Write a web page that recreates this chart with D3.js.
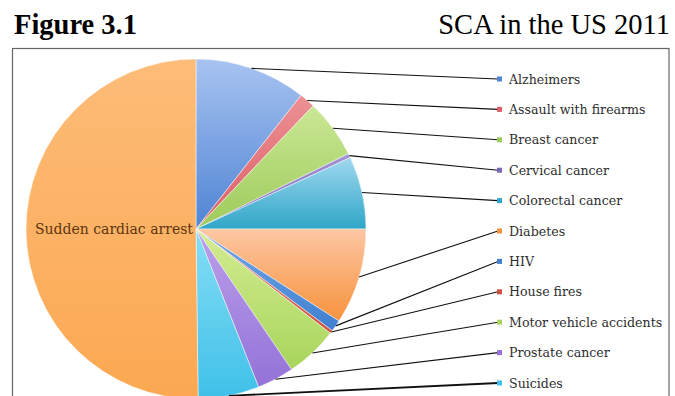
<!DOCTYPE html>
<html>
<head>
<meta charset="utf-8">
<script src="https://cdn.jsdelivr.net/npm/d3@7"></script>
<style>
  html, body { margin: 0; padding: 0; background: #fff; }
  svg { display: block; }
</style>
</head>
<body>
<svg id="chart" width="675" height="396"></svg>
<script>
// Causes of death in the US, 2011 (share of total, %)
const categories = [
  "Alzheimers", "Assault with firearms", "Breast cancer", "Cervical cancer",
  "Colorectal cancer", "Diabetes", "HIV", "House fires",
  "Motor vehicle accidents", "Prostate cancer", "Suicides", "Sudden cardiac arrest"
];
const values = [10.6, 1.5, 5.6, 0.4, 6.9, 9.1, 1.1, 0.3, 5.0, 3.5, 5.8, 50.2];
const lightColors = ["#a8c3f1", "#ec9094", "#cbe795", "#a395d6", "#a0d8ef", "#fdc7a4",
                     "#74a8e8", "#e8847a", "#d4ec92", "#bba0ea", "#86def6", "#fdbc78"];
const baseColors  = ["#4f84d4", "#dc5f66", "#9dcb5a", "#7b67b8", "#2fa6c8", "#f7923c",
                     "#3f7fd0", "#d0503f", "#a8d55c", "#9472d8", "#3fc0e8", "#fca852"];
const insideLabel = "Sudden cardiac arrest";

const svg = d3.select("#chart");

// Header
svg.append("text")
  .attr("x", 14).attr("y", 34)
  .attr("font-family", "'Liberation Serif', 'Times New Roman', serif")
  .attr("font-weight", "bold").attr("font-size", 28.5)
  .attr("fill", "#000").text("Figure 3.1");
svg.append("text")
  .attr("x", 670).attr("y", 34)
  .attr("text-anchor", "end")
  .attr("font-family", "'Liberation Serif', 'Times New Roman', serif")
  .attr("font-size", 28.5)
  .attr("fill", "#000").text("SCA in the US 2011");

// Chart frame
svg.append("rect")
  .attr("x", 12.5).attr("y", 48.5)
  .attr("width", 656.5).attr("height", 360)
  .attr("fill", "#fff").attr("stroke", "#666").attr("stroke-width", 1.2);

const cx = 196, cy = 229, r = 170;
const data = categories.map((c, i) => ({ name: c, value: values[i], i }));

const pie = d3.pie().value(d => d.value).sort(null);
const arcs = pie(data);
const arc = d3.arc().innerRadius(0).outerRadius(r);

// gradient fills, lighter at the top of each slice
const defs = svg.append("defs");
arcs.forEach((a, i) => {
  const g = defs.append("linearGradient")
    .attr("id", "g" + i)
    .attr("x1", 0).attr("y1", 0).attr("x2", 0).attr("y2", 1);
  g.append("stop").attr("offset", "0%").attr("stop-color", lightColors[i]);
  g.append("stop").attr("offset", "100%").attr("stop-color", baseColors[i]);
});
const clip = defs.append("clipPath").attr("id", "frameClip");
clip.append("rect").attr("x", 13).attr("y", 49).attr("width", 655).attr("height", 360);

const pieG = svg.append("g")
  .attr("clip-path", "url(#frameClip)")
  .append("g")
  .attr("transform", `translate(${cx},${cy})`);

pieG.selectAll("path.slice")
  .data(arcs)
  .join("path")
  .attr("class", "slice")
  .attr("d", arc)
  .attr("fill", (d, i) => `url(#g${i})`)
  .attr("stroke", "rgba(255,255,255,0.6)")
  .attr("stroke-width", 0.8);

// label inside the largest slice
svg.append("text")
  .attr("x", 193).attr("y", 234)
  .attr("text-anchor", "end")
  .attr("font-family", "'DejaVu Serif', serif")
  .attr("font-size", 14)
  .attr("fill", "#5b3510")
  .text(insideLabel);

// legend with leader lines (all slices except the one labelled inside)
const legendItems = arcs.filter(a => a.data.name !== insideLabel);
const legendY = d3.scalePoint()
  .domain(legendItems.map(a => a.data.name))
  .range([79, 383]);
const markerX = 500;

const leaders = svg.append("g");
legendItems.forEach((a, k) => {
  const mid = (a.startAngle + a.endAngle) / 2;
  const sx = cx + r * Math.sin(mid);
  const sy = cy - r * Math.cos(mid);
  const ly = legendY(a.data.name);
  leaders.append("line")
    .attr("x1", sx).attr("y1", sy)
    .attr("x2", markerX - 2).attr("y2", ly)
    .attr("stroke", "#111")
    .attr("stroke-width", k === legendItems.length - 1 ? 1.8 : 1.1);
});

const legend = svg.append("g");
legendItems.forEach(a => {
  const ly = legendY(a.data.name);
  legend.append("rect")
    .attr("x", markerX - 3).attr("y", ly - 2.5)
    .attr("width", 5).attr("height", 5)
    .attr("fill", baseColors[a.data.i]);
  legend.append("text")
    .attr("x", markerX + 9).attr("y", ly + 4.5)
    .attr("font-family", "'DejaVu Serif', serif")
    .attr("font-size", 12.6)
    .attr("fill", "#2e2e2e")
    .text(a.data.name);
});
</script>
</body>
</html>
